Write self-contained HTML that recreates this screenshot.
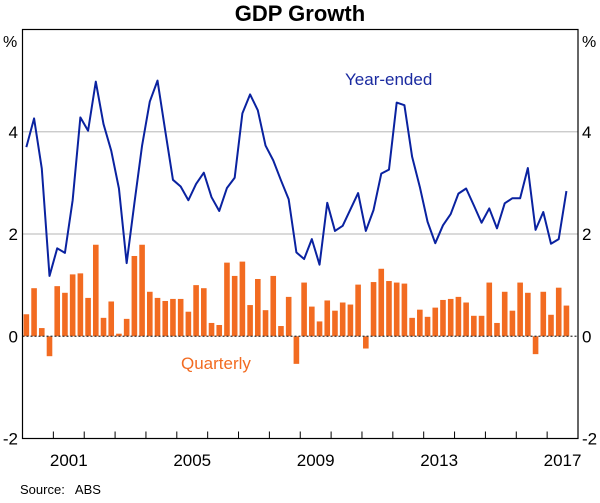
<!DOCTYPE html>
<html><head><meta charset="utf-8"><style>
body{margin:0;background:#fff;font-family:"Liberation Sans",sans-serif}
svg text{font-family:"Liberation Sans",sans-serif}
</style></head><body>
<svg id="c" width="600" height="498">
<text x="300" y="21" text-anchor="middle" font-size="22" font-weight="bold">GDP Growth</text>
<text x="3" y="47" font-size="16">%</text>
<text x="582" y="47" font-size="16">%</text>
<text x="20" y="494" font-size="13">Source:&#160;&#160; ABS</text>
<g id="grid"></g><g id="bars"></g><g id="line"></g><g id="axes"></g>
<text x="345" y="85" font-size="17" fill="#1a2aa0">Year-ended</text>
<text x="181" y="369" font-size="17" fill="#f26b21">Quarterly</text>
</svg>
<script>
const quarterly=[0.43,0.94,0.16,-0.39,0.98,0.85,1.21,1.23,0.75,1.79,0.36,0.68,0.05,0.34,1.57,1.79,0.87,0.75,0.69,0.73,0.73,0.48,1.0,0.94,0.26,0.22,1.44,1.18,1.46,0.61,1.12,0.51,1.18,0.2,0.77,-0.54,1.05,0.58,0.29,0.70,0.50,0.66,0.62,1.01,-0.24,1.06,1.32,1.08,1.05,1.03,0.36,0.52,0.38,0.56,0.71,0.73,0.77,0.66,0.40,0.40,1.05,0.26,0.87,0.50,1.05,0.85,-0.35,0.87,0.42,0.95,0.60];
const yearEnded=[3.70,4.26,3.28,1.18,1.72,1.63,2.66,4.28,4.02,4.98,4.15,3.63,2.89,1.43,2.60,3.73,4.59,5.0,4.02,3.06,2.93,2.66,2.98,3.20,2.72,2.45,2.90,3.10,4.36,4.73,4.42,3.73,3.44,3.05,2.68,1.64,1.51,1.90,1.40,2.61,2.06,2.16,2.48,2.80,2.06,2.47,3.18,3.26,4.57,4.52,3.51,2.92,2.24,1.82,2.17,2.39,2.79,2.89,2.56,2.22,2.50,2.11,2.60,2.70,2.70,3.29,2.08,2.43,1.81,1.90,2.84];
const yTicks=[-2,0,2,4];
const yearLabels=[2001,2005,2009,2013,2017];
const startYear=2000, endYear=2018;
const L=22.5,R=578,T=29.5,B=438.5,ymin=-2,ymax=6;
const NS="http://www.w3.org/2000/svg";
const qw=(R-L)/((endYear-startYear)*4);
const x=q=>L+qw*(q+0.5);
const xYear=yr=>L+(yr-startYear)*4*qw;
const y=v=>B-(v-ymin)/(ymax-ymin)*(B-T);
function mk(tag,attrs,parent){const e=document.createElementNS(NS,tag);for(const k in attrs)e.setAttribute(k,attrs[k]);document.getElementById(parent).appendChild(e);return e;}
yTicks.forEach(t=>{
 if(t>0){const g=mk('line',{x1:L,x2:R,y1:y(t),y2:y(t),stroke:'#c4c4c4','stroke-width':1.2},'grid');
 
 }
 const a=mk('text',{x:18,y:y(t)+6,'text-anchor':'end','font-size':17},'axes');a.textContent=t;
 
 
 const b=mk('text',{x:582,y:y(t)+6,'font-size':17},'axes');b.textContent=t;
 
 
});
quarterly.forEach((v,i)=>{
 const r=mk('rect',{x:x(i)-2.8,width:5.6,y:Math.min(y(v),y(0)),height:Math.abs(y(v)-y(0)),fill:'#f26b21'},'bars');
 
 
});
const z=mk('line',{x1:L,x2:R,y1:y(0),y2:y(0),stroke:'#333','stroke-width':1.2,'stroke-dasharray':'2,2'},'axes');


const p=mk('polyline',{points:yearEnded.map((v,i)=>x(i)+','+y(v)).join(' '),fill:'none',stroke:'#0a22a0','stroke-width':2,'stroke-linejoin':'round'},'line');


const box=mk('rect',{x:L,y:T,width:R-L,height:B-T,fill:'none',stroke:'#000','stroke-width':1.2},'axes');


for(let yr=startYear+1;yr<endYear;yr++){
 const t=mk('line',{x1:xYear(yr),x2:xYear(yr),y1:B,y2:B-7,stroke:'#000','stroke-width':1},'axes');
 
 
}
yearLabels.forEach(yr=>{
 const t=mk('text',{x:xYear(yr)+2*qw,y:466,'text-anchor':'middle','font-size':17},'axes');t.textContent=yr;
 
 
});
</script>
</body></html>
